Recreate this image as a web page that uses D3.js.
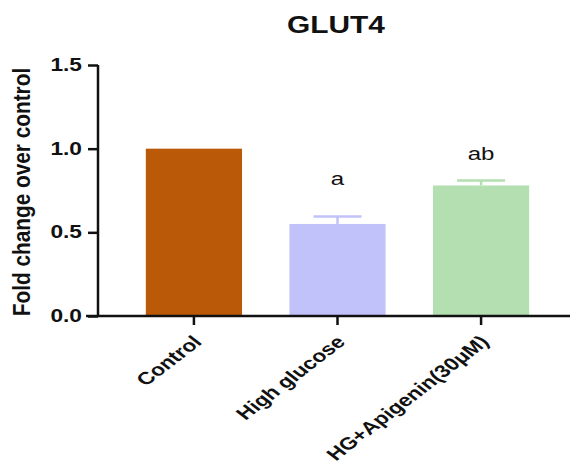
<!DOCTYPE html>
<html>
<head>
<meta charset="utf-8">
<script src="https://cdn.jsdelivr.net/npm/d3@7"></script>
<style>
  html, body { margin: 0; padding: 0; background: #fff; }
  svg { display: block; font-family: "Liberation Sans", Arial, sans-serif; }
</style>
</head>
<body>
<svg id="chart" width="570" height="471"></svg>
<script>
// GLUT4 expression, fold change relative to control
const categories = ["Control", "High glucose", "HG+Apigenin(30\u03bcM)"];
const means = [1.0, 0.55, 0.78];
const errors = [0.0, 0.045, 0.03];
const letters = ["", "a", "ab"];
const colors = ["#BA5A08", "#C2C2FB", "#B3DFB1"];
const yTicks = [0.0, 0.5, 1.0, 1.5];
const tickLabels = ["0.0", "0.5", "1.0", "1.5"];

const svg = d3.select("#chart");
const x0 = 98, yBase = 316;
const sx = 1.3; // wide lettering

const y = d3.scaleLinear().domain([0, 1.5]).range([yBase, 65]);
const x = d3.scaleBand().domain(categories)
  .range([97, 578]).paddingInner(0.33).paddingOuter(0.34);

// title
svg.append("text")
  .attr("transform", `translate(336,33) scale(${sx},1)`)
  .attr("text-anchor", "middle")
  .attr("font-size", 23).attr("font-weight", "bold")
  .attr("fill", "#111")
  .text("GLUT4");

// bars
svg.selectAll("rect.bar").data(categories).join("rect")
  .attr("class", "bar")
  .attr("x", d => x(d))
  .attr("width", x.bandwidth())
  .attr("y", (d, i) => y(means[i]))
  .attr("height", (d, i) => yBase - y(means[i]))
  .attr("fill", (d, i) => colors[i]);

// error bars (upper half only)
const errG = svg.append("g");
categories.forEach((c, i) => {
  if (!errors[i]) return;
  const cx = x(c) + x.bandwidth() / 2;
  const half = x.bandwidth() / 4;
  errG.append("line")
    .attr("x1", cx).attr("x2", cx)
    .attr("y1", y(means[i])).attr("y2", y(means[i] + errors[i]))
    .attr("stroke", colors[i]).attr("stroke-width", 2.5);
  errG.append("line")
    .attr("x1", cx - half).attr("x2", cx + half)
    .attr("y1", y(means[i] + errors[i])).attr("y2", y(means[i] + errors[i]))
    .attr("stroke", colors[i]).attr("stroke-width", 2.5);
});

// significance letters
const letterGap = { "a": 31, "ab": 20 };
svg.selectAll("text.sig").data(categories).join("text")
  .attr("class", "sig")
  .attr("transform", (d, i) =>
    `translate(${x(d) + x.bandwidth() / 2},${y(means[i] + errors[i]) - (letterGap[letters[i]] || 0)}) scale(${sx},1)`)
  .attr("text-anchor", "middle")
  .attr("font-size", 18.5)
  .attr("fill", "#111")
  .text((d, i) => letters[i]);

// y axis
const yAxis = d3.axisLeft(y).tickValues(yTicks)
  .tickFormat((d, i) => tickLabels[i]).tickSize(10);
const gy = svg.append("g").attr("transform", `translate(${x0},0)`).call(yAxis);
gy.select(".domain").attr("stroke", "#111").attr("stroke-width", 2.5)
  .attr("d", `M0,${y(1.5)}V${yBase}`);
gy.selectAll(".tick line").attr("stroke", "#111").attr("stroke-width", 2.5);
gy.selectAll(".tick text")
  .attr("x", 0)
  .attr("transform", `translate(-16,0) scale(${sx},1)`)
  .attr("font-size", 17.5).attr("font-weight", "bold")
  .attr("fill", "#111").attr("font-family", "Liberation Sans, Arial, sans-serif");

// x axis
const xAxis = d3.axisBottom(x).tickSize(9).tickFormat("");
const gx = svg.append("g").attr("transform", `translate(0,${yBase})`).call(xAxis);
gx.select(".domain").attr("stroke", "#111").attr("stroke-width", 2.5)
  .attr("d", `M${x0 - 12},0H570`);
gx.selectAll(".tick line").attr("stroke", "#111").attr("stroke-width", 2.5);

// slanted category labels
svg.selectAll("text.cat").data(categories).join("text")
  .attr("class", "cat")
  .attr("transform", d =>
    `translate(${x(d) + x.bandwidth() / 2 + 9},${yBase + 27}) scale(${sx},1) rotate(-45)`)
  .attr("text-anchor", "end")
  .attr("font-size", 17.5).attr("font-weight", "bold")
  .attr("fill", "#111")
  .text(d => d);

// y axis title
svg.append("text")
  .attr("transform", `translate(30,${(68 + yBase) / 2}) scale(1.15,1) rotate(-90)`)
  .attr("text-anchor", "middle")
  .attr("font-size", 20.8).attr("font-weight", "bold")
  .attr("fill", "#111")
  .text("Fold change over control");
</script>
</body>
</html>
